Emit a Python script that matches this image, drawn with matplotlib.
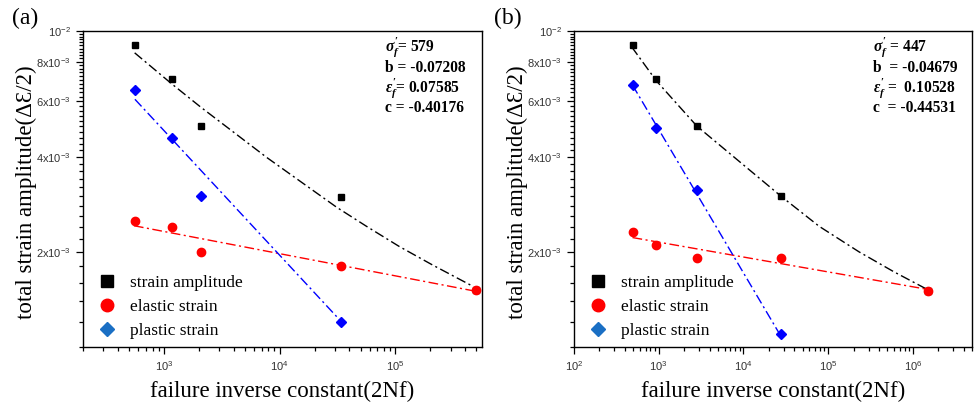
import matplotlib
matplotlib.use("Agg")
import matplotlib.pyplot as plt
from matplotlib.lines import Line2D
from matplotlib.ticker import FixedLocator, FuncFormatter, NullFormatter
import numpy as np

plt.rcParams['font.family'] = ['Liberation Sans', 'DejaVu Sans']
plt.rcParams['mathtext.fontset'] = 'custom'
plt.rcParams['mathtext.rm'] = 'Liberation Serif:bold'
plt.rcParams['mathtext.it'] = 'Liberation Serif:italic:bold'
plt.rcParams['mathtext.bf'] = 'Liberation Serif:bold'

SERIF = ['Liberation Serif', 'DejaVu Serif']

# ---- panel (a) : points ----
a_cycles = [562, 1172, 2085, 34200, 499000]
a_total = [9.03e-3, 7.05e-3, 4.99e-3, 2.99e-3, 1.51e-3]
a_elastic = [2.51e-3, 2.40e-3, 2.00e-3, 1.81e-3, 1.51e-3]
a_plastic = [6.50e-3, 4.60e-3, 3.01e-3, 1.20e-3]
# fitted curves (traced)
a_fit_total_x = [559, 1165, 2084, 7730, 31000, 56200, 108000, 208000, 461000]
a_fit_total_y = [8.53e-3, 6.81e-3, 5.74e-3, 3.98e-3, 2.77e-3, 2.41e-3, 2.08e-3, 1.82e-3, 1.56e-3]
a_fit_el_x = [551, 499000]
a_fit_el_y = [2.42e-3, 1.50e-3]
a_fit_pl_x = [562, 32900]
a_fit_pl_y = [6.08e-3, 1.22e-3]
a_params = [r"$\sigma^{\prime}_{f}$= 579", "b = -0.07208",
            r"$\varepsilon^{\prime}_{f}$= 0.07585", "c = -0.40176"]

# ---- panel (b) ----
b_cycles = [491, 940, 2825, 27800, 1530000]
b_total = [9.03e-3, 7.03e-3, 5.02e-3, 3.00e-3, 1.50e-3]
b_elastic = [2.31e-3, 2.11e-3, 1.91e-3, 1.91e-3, 1.50e-3]
b_plastic = [6.74e-3, 4.92e-3, 3.13e-3, 1.10e-3]
b_fit_total_x = [481, 940, 2825, 27800, 78300, 232000, 597000, 1420000]
b_fit_total_y = [8.90e-3, 6.95e-3, 5.00e-3, 3.00e-3, 2.41e-3, 2.00e-3, 1.73e-3, 1.53e-3]
b_fit_el_x = [491, 1530000]
b_fit_el_y = [2.22e-3, 1.52e-3]
b_fit_pl_x = [491, 26700]
b_fit_pl_y = [6.74e-3, 1.10e-3]
b_params = [r"$\sigma^{\prime}_{f}$ = 447", "b  = -0.04679",
            r"$\varepsilon^{\prime}_{f}$ =  0.10528", "c  = -0.44531"]

y_major = [2e-3, 4e-3, 6e-3, 8e-3, 1e-2]
y_major_labels = ["2x10^{-3}", "4x10^{-3}", "6x10^{-3}", "8x10^{-3}", "10^{-2}"]

DASH = (0, (7, 2.5, 1.5, 2.5))


def draw_panel(ax, tag, tagx, cyc, tot, el, pl, ftx, fty, fex, fey, fpx, fpy, params, xlim, px):
    ax.set_xscale('log')
    ax.set_yscale('log')
    ax.plot(ftx, fty, color='black', lw=1.0, ls=DASH, zorder=2)
    ax.plot(fex, fey, color='red', lw=1.0, ls=DASH, zorder=2)
    ax.plot(fpx, fpy, color='blue', lw=1.0, ls=DASH, zorder=2)
    ax.plot(cyc, tot, 's', color='black', ms=5, zorder=3)
    ax.plot(cyc[:len(pl)], pl, 'D', color='blue', ms=5, zorder=3)
    ax.plot(cyc, el, 'o', color='red', ms=6, zorder=4)

    ax.set_xlim(*xlim)
    ax.set_ylim(1e-3, 1e-2)

    ax.yaxis.set_major_locator(FixedLocator(y_major))
    ax.yaxis.set_major_formatter(FuncFormatter(
        lambda v, p: r"$\mathregular{%s}$" % y_major_labels[y_major.index(v)] if v in y_major else ""))
    minor = [m * 1e-4 for m in range(10, 100, 2) if m % 20 != 0]
    ax.yaxis.set_minor_locator(FixedLocator(minor))
    ax.yaxis.set_minor_formatter(NullFormatter())
    ax.xaxis.set_major_formatter(FuncFormatter(
        lambda v, p: r"$\mathregular{10^{%d}}$" % round(np.log10(v))))
    ax.xaxis.set_minor_formatter(NullFormatter())

    ax.tick_params(which='both', direction='out', top=False, right=False,
                   labelsize=8, labelcolor='#333333', width=0.9)
    ax.tick_params(which='major', length=5)
    ax.tick_params(which='minor', length=3)
    for s in ax.spines.values():
        s.set_linewidth(1.0)

    ax.set_ylabel("total strain amplitude(\u0394\u0190/2)", family=SERIF, fontsize=16.5)
    ax.yaxis.set_label_coords(-0.115, 0.49)
    ax.set_xlabel("failure inverse constant(2Nf)", family=SERIF, fontsize=16.5, labelpad=6)

    ys = [0.949, 0.883, 0.820, 0.756]
    for txt, yy in zip(params, ys):
        ax.text(px, yy, txt, transform=ax.transAxes, family=SERIF,
                fontweight='bold', fontsize=11.2, va='center', ha='left')

    handles = [
        Line2D([], [], ls='none', marker='s', color='black', ms=8),
        Line2D([], [], ls='none', marker='o', color='red', ms=9),
        Line2D([], [], ls='none', marker='D', color='#1a6fc4', ms=7),
    ]
    ax.legend(handles, ["strain amplitude", "elastic strain", "plastic strain"],
              loc='lower left', bbox_to_anchor=(0.038, 0.025), frameon=False,
              borderpad=0, borderaxespad=0, handlelength=1.0, handletextpad=0.85,
              labelspacing=0.45, prop={'family': SERIF, 'size': 12.5})

    ax.text(tagx, 1.041, tag, transform=ax.transAxes, family=SERIF, fontsize=17,
            va='center', ha='left')


fig = plt.figure(figsize=(9.74, 4.08), dpi=100)
ax_a = fig.add_axes([0.0852, 0.1495, 0.4097, 0.7745])
ax_b = fig.add_axes([0.5893, 0.1495, 0.4087, 0.7745])

draw_panel(ax_a, "(a)", -0.178, a_cycles, a_total, a_elastic, a_plastic,
           a_fit_total_x, a_fit_total_y, a_fit_el_x, a_fit_el_y,
           a_fit_pl_x, a_fit_pl_y, a_params, (200, 5.6e5), 0.757)
draw_panel(ax_b, "(b)", -0.2, b_cycles, b_total, b_elastic, b_plastic,
           b_fit_total_x, b_fit_total_y, b_fit_el_x, b_fit_el_y,
           b_fit_pl_x, b_fit_pl_y, b_params, (100, 5e6), 0.752)

fig.savefig("out.png", dpi=100)
